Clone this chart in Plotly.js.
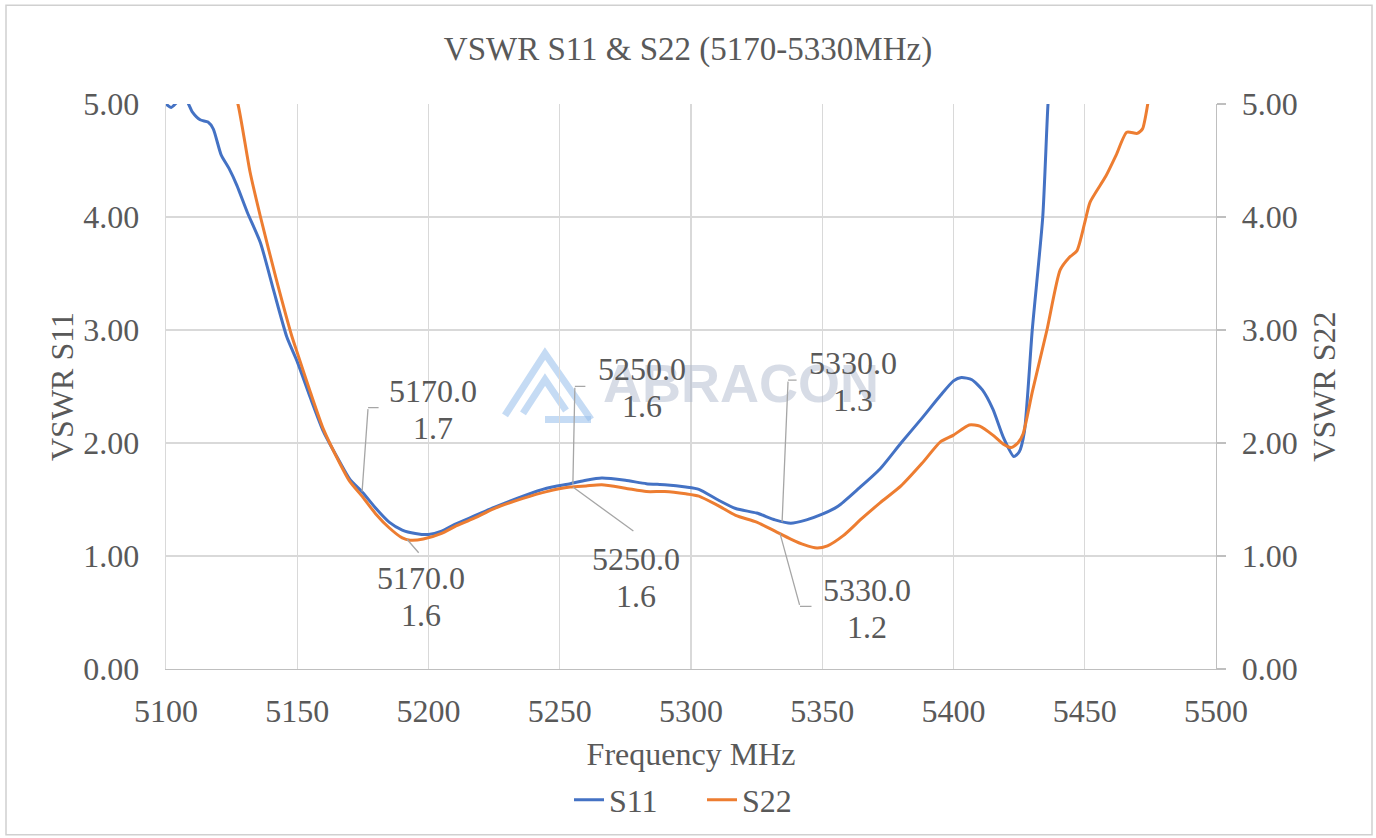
<!DOCTYPE html>
<html><head><meta charset="utf-8">
<script src="https://cdn.plot.ly/plotly-3.0.1.min.js"></script>
<style>html,body{margin:0;padding:0;background:#fff}#chart{width:1376px;height:838px}</style>
</head><body><div id="chart"></div>
<script>
// ---- data ----
const freqS11 = [5100,5102,5105,5108,5110,5113,5116,5118,5121,5124,5127,5131,5136,5141,5146,5150,5155,5160,5166,5170,5175,5180,5185,5190,5195,5200,5205,5210,5217,5225,5236,5245,5254,5260,5266,5275,5283,5290,5298,5303,5310,5317,5325,5332,5338,5344,5350,5356,5364,5372,5380,5388,5395,5400,5403,5407,5411,5415,5419,5423,5425,5427,5430,5434,5436,5438];
const vswrS11 = [5.00,4.97,5.03,5.02,4.93,4.86,4.84,4.78,4.55,4.43,4.28,4.04,3.77,3.35,2.94,2.72,2.40,2.10,1.84,1.68,1.56,1.42,1.30,1.23,1.20,1.19,1.22,1.28,1.35,1.43,1.53,1.60,1.64,1.67,1.69,1.67,1.64,1.63,1.61,1.59,1.50,1.42,1.38,1.32,1.29,1.32,1.37,1.44,1.60,1.77,2.00,2.22,2.42,2.55,2.58,2.56,2.47,2.30,2.05,1.88,1.92,2.10,3.00,4.00,5.00,5.60];
const freqS22 = [5125,5127.4,5132,5136,5142,5148,5150,5155,5160,5166,5170,5175,5180,5185,5190,5193,5198,5205,5210,5217,5225,5236,5245,5254,5260,5266,5275,5283,5290,5298,5303,5310,5317,5325,5332,5338,5343,5348,5352,5358,5365,5372,5380,5388,5395,5400,5406,5410,5415,5419,5422,5424.5,5426.5,5430,5435.6,5440.6,5444,5447,5450,5452,5458,5462,5466,5470,5472,5474,5476];
const vswrS22 = [5.15,5.00,4.40,4.00,3.45,2.94,2.80,2.45,2.12,1.83,1.66,1.52,1.37,1.25,1.16,1.14,1.15,1.20,1.26,1.33,1.42,1.51,1.57,1.61,1.62,1.63,1.60,1.57,1.57,1.55,1.53,1.45,1.36,1.30,1.22,1.15,1.10,1.07,1.09,1.18,1.33,1.47,1.62,1.82,2.01,2.07,2.16,2.15,2.07,1.99,1.96,2.00,2.08,2.45,3.00,3.53,3.64,3.70,3.95,4.13,4.36,4.55,4.75,4.74,4.78,5.00,5.30];
const yTickVals = [0,1,2,3,4,5];
const xTickVals = [5100,5150,5200,5250,5300,5350,5400,5450,5500];
const labelFreqText = ['5170.0','5170.0','5250.0','5250.0','5330.0','5330.0'];
const labelValText  = ['1.7','1.6','1.6','1.6','1.3','1.2'];
const labelAnchorX  = [5174.7,5191.8,5255.0,5255.0,5334.7,5333.9];
const labelAnchorY  = [1.57,1.148,1.634,1.61,1.30,1.20];

// ---- styling ----
const FONT = '"Liberation Serif", "Times New Roman", serif';
const TXT = '#595959';
const GRID = '#d9d9d9';
const leader = [
  {ex:6, ey:-84, stub:12, tx:71, ty:-82},
  {ex:13, ey:15, stub:0, tx:14, ty:57},
  {ex:2, ey:-98, stub:12, tx:69, ty:-97},
  {ex:62, ey:45, stub:0, tx:63, ty:90},
  {ex:6, ey:-142, stub:10, tx:71, ty:-141},
  {ex:20, ey:73, stub:13, tx:87, ty:75}
];
const L=166, R=1216, T=104, B=670;
function px(x){return (x-L)/(R-L);}
function py(y){return (B-y)/(B-T);}

const annotations = [];
annotations.push({xref:'paper', yref:'paper', x:px(741), y:py(383), text:'<b>ABRACON</b>', showarrow:false,
  font:{family:'"Liberation Sans", Arial, sans-serif', size:54, color:'rgba(175,185,205,0.5)'}});
leader.forEach((g,i)=>{
  const base = {xref:'x', yref:'y', x:labelAnchorX[i], y:labelAnchorY[i]};
  annotations.push(Object.assign({}, base, {text:'', showarrow:true, arrowhead:0, arrowwidth:1.3, arrowcolor:'#a6a6a6', standoff:0, ax:g.ex, ay:g.ey, font:{size:1}}));
  if(g.stub>0){
    annotations.push(Object.assign({}, base, {text:'', showarrow:true, arrowhead:0, arrowwidth:1.3, arrowcolor:'#a6a6a6', standoff:0, xshift:g.ex, yshift:-g.ey, ax:g.stub, ay:0, font:{size:1}}));
  }
  annotations.push(Object.assign({}, base, {text:labelFreqText[i], showarrow:false, xshift:g.tx, yshift:-(g.ty-18.5), font:{family:FONT,size:32,color:TXT}}));
  annotations.push(Object.assign({}, base, {text:labelValText[i], showarrow:false, xshift:g.tx, yshift:-(g.ty+18.5), font:{family:FONT,size:32,color:TXT}}));
});

const shapes = [
  {type:'rect', xref:'paper', yref:'paper', x0:px(6), x1:px(1372), y0:py(836), y1:py(5), line:{color:'#d0d0d0', width:1.5}, layer:'below'},
  {type:'path', xref:'paper', yref:'paper', layer:'below', line:{color:'rgba(150,190,235,0.55)', width:7},
    path:`M ${px(505)},${py(416)} L ${px(545)},${py(354)} L ${px(591)},${py(420)}`},
  {type:'path', xref:'paper', yref:'paper', layer:'below', line:{color:'rgba(150,190,235,0.55)', width:7},
    path:`M ${px(523)},${py(414)} L ${px(545)},${py(380)} L ${px(566)},${py(411)}`},
  {type:'path', xref:'paper', yref:'paper', layer:'below', line:{color:'rgba(150,190,235,0.55)', width:7},
    path:`M ${px(545)},${py(420)} L ${px(591)},${py(420)}`}
];

const traces = [
  {x:freqS11, y:vswrS11, name:'S11', type:'scatter', mode:'lines', yaxis:'y',
   line:{color:'#4472c4', width:3, shape:'spline', smoothing:0.6}},
  {x:freqS22, y:vswrS22, name:'S22', type:'scatter', mode:'lines', yaxis:'y2',
   line:{color:'#ed7d31', width:3, shape:'spline', smoothing:0.6}}
];

const tickfont = {family:FONT, size:32, color:TXT};
const layout = {
  width:1376, height:838,
  margin:{l:L, r:1376-R, t:T, b:838-B, pad:0},
  paper_bgcolor:'#fff', plot_bgcolor:'#fff',
  title:{text:'VSWR S11 & S22 (5170-5330MHz)', x:0.5, xanchor:'center', y:1-48/838, yanchor:'middle', font:{family:FONT, size:33, color:TXT}},
  font:{family:FONT, color:TXT},
  xaxis:{range:[5100,5500], tickvals:xTickVals, showgrid:true, gridcolor:GRID, gridwidth:1.3, zeroline:false,
    showline:true, linecolor:'#bfbfbf', linewidth:1.3, ticks:'', tickfont:tickfont, ticklabelstandoff:13,
    title:{text:'Frequency MHz', font:{family:FONT, size:32, color:TXT}, standoff:15}, automargin:false, fixedrange:true},
  yaxis:{range:[0,5], tickvals:yTickVals, tickformat:'.2f', showgrid:true, gridcolor:GRID, gridwidth:1.3, zeroline:false,
    showline:true, linecolor:GRID, linewidth:1.3, ticks:'', tickfont:tickfont, ticklabelstandoff:19,
    title:{text:'VSWR S11', font:{family:FONT, size:32, color:TXT}, standoff:0}, automargin:false, fixedrange:true},
  yaxis2:{range:[0,5], tickvals:yTickVals, tickformat:'.2f', overlaying:'y', side:'right', showgrid:false, zeroline:false,
    showline:true, linecolor:'#bfbfbf', linewidth:1.3, ticks:'outside', ticklen:9, tickwidth:1.3, tickcolor:'#bfbfbf',
    tickfont:tickfont, ticklabelstandoff:9,
    title:{text:'VSWR S22', font:{family:FONT, size:32, color:TXT}, standoff:16}, automargin:false, fixedrange:true},
  legend:{orientation:'h', x:px(702), xanchor:'center', y:py(800), yanchor:'middle', font:{family:FONT, size:32, color:TXT},
    bgcolor:'rgba(0,0,0,0)', entrywidth:88, entrywidthmode:'pixels', tracegroupgap:0},
  showlegend:true,
  annotations:annotations,
  shapes:shapes
};
Plotly.newPlot('chart', traces, layout, {displayModeBar:false, staticPlot:true});
</script>
</body></html>
